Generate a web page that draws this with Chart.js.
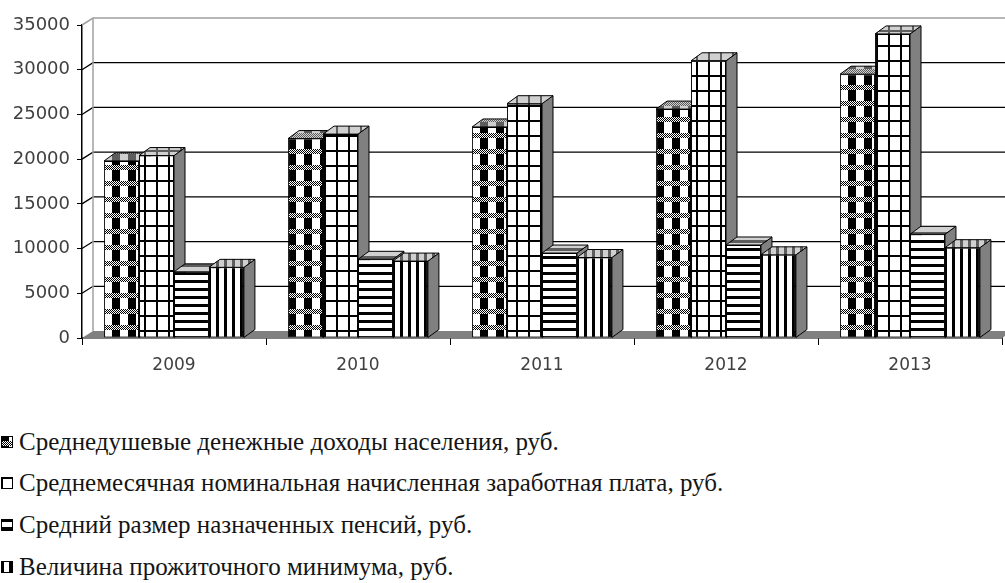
<!DOCTYPE html>
<html>
<head>
<meta charset="utf-8">
<script src="https://cdn.jsdelivr.net/npm/chart.js@4.4.1/dist/chart.umd.min.js"></script>
<style>
  html, body { margin: 0; padding: 0; background: #fff; }
  #wrap { position: relative; width: 1005px; height: 583px; overflow: hidden; }
  #box { position: absolute; left: 0; top: 0; width: 1005px; height: 383px; }
  .lg { position: absolute; left: 0; height: 30px; line-height: 30px; white-space: nowrap;
        font-family: "Liberation Serif", "Times New Roman", serif; font-size: 25px; color: #151515; }
  .lg canvas { position: absolute; left: 1px; top: 9px; }
  .lg span { position: absolute; left: 19px; top: 0; }
</style>
</head>
<body>
<div id="wrap">
  <div id="box"><canvas id="chart"></canvas></div>
  <div id="legend"></div>
</div>
<script>
// ===== DATA =====
const years = ['2009', '2010', '2011', '2012', '2013'];
const income = [19800, 22300, 23600, 25600, 29500];
const salary = [20400, 22800, 26200, 31000, 34000];
const pension = [7400, 8800, 9500, 10400, 11600];
const minimum = [7900, 8600, 9000, 9300, 10100];
const labels = [
  'Среднедушевые денежные доходы населения, руб.',
  'Среднемесячная номинальная начисленная заработная плата, руб.',
  'Средний размер назначенных пенсий, руб.',
  'Величина прожиточного минимума, руб.'
];

// 3D offsets
const DEPTH = { dx: 11, dy: -8 };
const WALL = { dx: 11, dy: -7 };

// ===== PATTERNS =====
function patternCanvas(kind) {
  const c = document.createElement('canvas');
  const g = c.getContext('2d');
  if (kind === 'dots') {
    c.width = 16; c.height = 16;
    g.fillStyle = '#fff'; g.fillRect(0, 0, 16, 16);
    g.fillStyle = '#000'; g.fillRect(0, 0, 8, 16);
    for (let y = 0; y < 5; y++) {
      for (let x = 0; x < 16; x++) {
        g.fillStyle = (x + y) % 2 ? '#000' : '#fff';
        g.fillRect(x, y + 5, 1, 1);
      }
    }
  } else if (kind === 'grid') {
    c.width = 12; c.height = 15;
    g.fillStyle = '#fff'; g.fillRect(0, 0, 12, 15);
    g.fillStyle = '#000';
    g.fillRect(0, 0, 2, 15);
    g.fillRect(0, 0, 12, 2);
  } else if (kind === 'h') {
    c.width = 8; c.height = 8;
    g.fillStyle = '#fff'; g.fillRect(0, 0, 8, 8);
    g.fillStyle = '#000'; g.fillRect(0, 0, 8, 3);
  } else {
    c.width = 8; c.height = 8;
    g.fillStyle = '#fff'; g.fillRect(0, 0, 8, 8);
    g.fillStyle = '#000'; g.fillRect(0, 0, 3, 8);
  }
  return c;
}

const ctx = document.getElementById('chart').getContext('2d');
const kinds = ['dots', 'grid', 'h', 'v'];
const patterns = kinds.map(k => ctx.createPattern(patternCanvas(k), 'repeat'));

// ===== 3D PLUGIN =====
const box3d = {
  id: 'box3d',
  beforeDatasetsDraw(chart) {
    const { ctx, chartArea: a, scales: { y } } = chart;
    ctx.save();
    // floor
    ctx.fillStyle = '#808080';
    ctx.beginPath();
    ctx.moveTo(a.left, a.bottom);
    ctx.lineTo(a.right, a.bottom);
    ctx.lineTo(a.right + WALL.dx, a.bottom + WALL.dy);
    ctx.lineTo(a.left + WALL.dx, a.bottom + WALL.dy);
    ctx.closePath();
    ctx.fill();
    // back wall grid + side wall edges
    y.ticks.forEach(t => {
      const py = y.getPixelForValue(t.value);
      if (t.value === 0) return;
      const top = t.value === y.max;
      ctx.strokeStyle = top ? '#a0a0a0' : '#000';
      ctx.lineWidth = top ? 1.5 : 1.3;
      ctx.beginPath();
      ctx.moveTo(a.left, py);
      ctx.lineTo(a.left + WALL.dx, py + WALL.dy);
      ctx.lineTo(chart.width, py + WALL.dy);
      ctx.stroke();
    });
    ctx.strokeStyle = '#a0a0a0';
    ctx.lineWidth = 1.5;
    ctx.beginPath();
    ctx.moveTo(a.left + WALL.dx, a.top + WALL.dy);
    ctx.lineTo(a.left + WALL.dx, a.bottom + WALL.dy);
    ctx.stroke();
    ctx.restore();
  },
  beforeDatasetDraw() {
    return false;
  },
  afterDatasetsDraw(chart) {
    const { ctx } = chart;
    chart.data.datasets.forEach((ds, i) => {
      const meta = chart.getDatasetMeta(i);
      meta.data.forEach(bar => {
        const l = bar.x - bar.width / 2, r = bar.x + bar.width / 2;
        ctx.save();
        ctx.strokeStyle = '#000';
        ctx.lineWidth = 1;
        // side
        ctx.fillStyle = '#808080';
        ctx.beginPath();
        ctx.moveTo(r, bar.y);
        ctx.lineTo(r + DEPTH.dx, bar.y + DEPTH.dy);
        ctx.lineTo(r + DEPTH.dx, bar.base + DEPTH.dy);
        ctx.lineTo(r, bar.base);
        ctx.closePath();
        ctx.fill(); ctx.stroke();
        // top
        ctx.beginPath();
        ctx.moveTo(l, bar.y);
        ctx.lineTo(l + DEPTH.dx, bar.y + DEPTH.dy);
        ctx.lineTo(r + DEPTH.dx, bar.y + DEPTH.dy);
        ctx.lineTo(r, bar.y);
        ctx.closePath();
        ctx.fillStyle = ds.backgroundColor;
        ctx.fill();
        ctx.fillStyle = 'rgba(170,170,170,0.55)';
        ctx.fill();
        ctx.stroke();
        ctx.restore();
        bar.draw(ctx);
      });
    });
  }
};

// ===== CHART =====
const values = [income, salary, pension, minimum];
new Chart(ctx, {
  type: 'bar',
  data: {
    labels: years,
    datasets: values.map((v, i) => ({
      label: labels[i],
      data: v,
      backgroundColor: patterns[i],
      borderColor: '#000',
      borderWidth: 1,
      borderSkipped: false
    }))
  },
  options: {
    responsive: true,
    maintainAspectRatio: false,
    animation: false,
    events: [],
    categoryPercentage: 0.76,
    barPercentage: 1.0,
    layout: { padding: { top: 25, right: 3, left: 0, bottom: 0 } },
    plugins: { legend: { display: false }, tooltip: { enabled: false } },
    scales: {
      x: {
        afterFit: s => { s.height = 45; },
        grid: { drawOnChartArea: false, tickLength: 7, color: '#000', lineWidth: 1 },
        border: { display: true, color: '#000', width: 1.5 },
        ticks: { color: '#404040', padding: 10, font: { family: 'DejaVu Sans', size: 17 } }
      },
      y: {
        min: 0, max: 35000,
        afterFit: s => { s.width = 82; },
        grid: { drawOnChartArea: false, tickLength: 5, color: '#000', lineWidth: 1 },
        border: { display: true, color: '#000', width: 1.5 },
        ticks: {
          stepSize: 5000, color: '#404040', padding: 7,
          font: { family: 'DejaVu Sans', size: 18 },
          callback: v => String(v)
        }
      }
    }
  },
  plugins: [box3d]
});

// ===== LEGEND =====
const rowsY = [442, 483, 525, 567];
const legendEl = document.getElementById('legend');
labels.forEach((text, i) => {
  const row = document.createElement('div');
  row.className = 'lg';
  row.style.top = (rowsY[i] - 15) + 'px';
  const sw = document.createElement('canvas');
  sw.width = 12; sw.height = 12;
  const g = sw.getContext('2d');
  g.fillStyle = g.createPattern(patternCanvas(kinds[i]), 'repeat');
  g.fillRect(0, 0, 12, 12);
  g.strokeStyle = '#000';
  g.strokeRect(0.5, 0.5, 11, 11);
  const span = document.createElement('span');
  span.textContent = text;
  row.appendChild(sw);
  row.appendChild(span);
  legendEl.appendChild(row);
});
</script>
</body>
</html>
